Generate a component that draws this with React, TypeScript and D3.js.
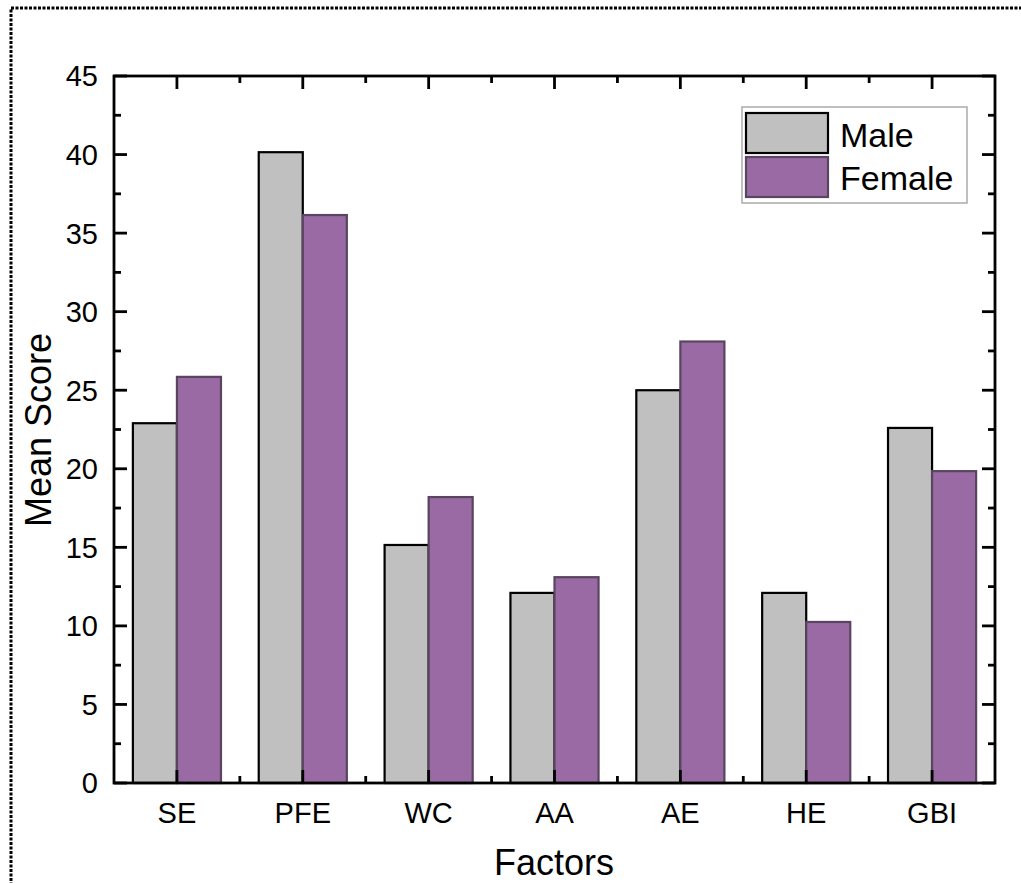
import React from "react";
import * as d3 from "d3";

const categories = ["SE", "PFE", "WC", "AA", "AE", "HE", "GBI"];
const maleValues = [22.9, 40.15, 15.15, 12.1, 25.0, 12.1, 22.6];
const femaleValues = [25.85, 36.15, 18.2, 13.1, 28.1, 10.25, 19.85];
const seriesNames = ["Male", "Female"];
const yTicks = [0, 5, 10, 15, 20, 25, 30, 35, 40, 45];

const W = 1021;
const H = 883;
const left = 114;
const right = 995;
const top = 76;
const bottom = 783;
const font = "'Liberation Sans', Arial, sans-serif";
const maleColor = "#c0c0c0";
const femaleColor = "#996aa3";
const femaleStroke = "#5a4560";

export default function App() {
  const x = d3.scaleBand<string>().domain(categories).range([left, right]).paddingInner(0).paddingOuter(0);
  const y = d3.scaleLinear().domain([0, 45]).range([bottom, top]);
  const bw = x.bandwidth();
  const barW = bw * 0.35;
  const minorY = d3.range(2.5, 45, 5);
  const boundaries = categories.slice(1).map((c) => x(c)!);

  return (
    <svg width={W} height={H} style={{ position: "fixed", left: 0, top: 0, background: "#fff" }}>
      <rect x={11} y={8} width={W + 20} height={H + 20} fill="none" stroke="#000" strokeWidth={3} strokeDasharray="3,1.5" />
      {categories.map((c, i) => {
        const cx = x(c)! + bw / 2;
        return (
          <g key={c}>
            <rect x={cx - barW} y={y(maleValues[i])} width={barW} height={bottom - y(maleValues[i])} fill={maleColor} stroke="#000" strokeWidth={2.2} />
            <rect x={cx} y={y(femaleValues[i])} width={barW} height={bottom - y(femaleValues[i])} fill={femaleColor} stroke={femaleStroke} strokeWidth={2.2} />
          </g>
        );
      })}
      {yTicks.map((t) => (
        <g key={t}>
          <line x1={left} x2={left + 13} y1={y(t)} y2={y(t)} stroke="#000" strokeWidth={2.8} />
          <line x1={right} x2={right - 13} y1={y(t)} y2={y(t)} stroke="#000" strokeWidth={2.8} />
          <text x={98} y={y(t)} dy="0.36em" textAnchor="end" fontFamily={font} fontSize={29}>{t}</text>
        </g>
      ))}
      {minorY.map((t) => (
        <g key={"m" + t}>
          <line x1={left} x2={left + 7} y1={y(t)} y2={y(t)} stroke="#000" strokeWidth={2.8} />
          <line x1={right} x2={right - 7} y1={y(t)} y2={y(t)} stroke="#000" strokeWidth={2.8} />
        </g>
      ))}
      {categories.map((c) => {
        const cx = x(c)! + bw / 2;
        return (
          <g key={"x" + c}>
            <line x1={cx} x2={cx} y1={bottom} y2={bottom - 13} stroke="#000" strokeWidth={2.8} />
            <line x1={cx} x2={cx} y1={top} y2={top + 13} stroke="#000" strokeWidth={2.8} />
            <text x={cx} y={823} textAnchor="middle" fontFamily={font} fontSize={29}>{c}</text>
          </g>
        );
      })}
      {boundaries.map((b, i) => (
        <g key={"b" + i}>
          <line x1={b} x2={b} y1={bottom} y2={bottom - 7} stroke="#000" strokeWidth={2.8} />
          <line x1={b} x2={b} y1={top} y2={top + 7} stroke="#000" strokeWidth={2.8} />
        </g>
      ))}
      <rect x={left} y={top} width={right - left} height={bottom - top} fill="none" stroke="#000" strokeWidth={2.8} />
      <text x={554} y={875} textAnchor="middle" fontFamily={font} fontSize={36}>Factors</text>
      <text transform={`translate(51,430) rotate(-90)`} textAnchor="middle" fontFamily={font} fontSize={36}>Mean Score</text>
      <rect x={742} y={107} width={225} height={96} fill="#fff" stroke="#aaa" strokeWidth={1.5} />
      {seriesNames.map((s, i) => (
        <g key={s}>
          <rect x={746} y={113 + i * 44} width={82} height={40} fill={i === 0 ? maleColor : femaleColor} stroke={i === 0 ? "#000" : femaleStroke} strokeWidth={2.2} />
          <text x={840} y={147 + i * 43} fontFamily={font} fontSize={34}>{s}</text>
        </g>
      ))}
    </svg>
  );
}
